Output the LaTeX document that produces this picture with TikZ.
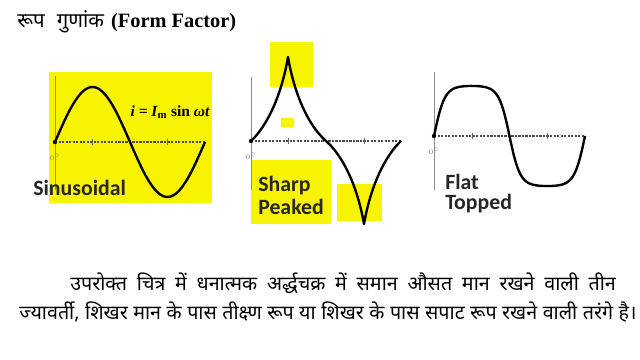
\documentclass[tikz,border=0pt]{standalone}
\usepackage{fontspec}
\usepackage{xcolor}
\usepackage{tikz}
\setmainfont{Liberation Serif}
\newfontfamily\hindi[Script=Devanagari]{Noto Sans}
\newfontfamily\lblfont{Carlito}
\definecolor{hiyellow}{HTML}{F8F400}

\begin{document}
\begin{tikzpicture}[x=0.025cm, y=-0.025cm,
    wave/.style={line width=1.7pt, line join=round},
    yaxis/.style={black!45, line width=0.7pt},
    xaxis/.style={black!70, line width=0.8pt, dash pattern=on 1.6pt off 0.9pt},
    hilite/.style={fill=hiyellow, draw=none},
    zerolbl/.style={font=\fontsize{5}{5}\selectfont, text=black!50, inner sep=0pt},
    lbl/.style={font=\lblfont\bfseries\fontsize{15.5}{17}\selectfont, anchor=west, inner sep=0pt, text=black!85}]
    \useasboundingbox[fill=white] (0,0) rectangle (640,360);

    % Title
    \node[anchor=west, inner sep=0pt] (title) at (17,22) {{\hindi\fontsize{14.5}{16}\selectfont रूप\hspace{0.6em}गुणांक}\hspace{0.5em}{\fontsize{14.5}{16}\selectfont\bfseries (Form Factor)}};

    % Sinusoidal - yellow box behind the wave
    \fill[hilite] (49,72) rectangle (212,203);
    \draw[yaxis] (55,76) -- (55,190);
    \draw[xaxis] (55,142) -- (205,142);
    \draw[wave] plot[domain=0:150, samples=70, smooth] ({55+\x},{142-55*sin(\x*2.4)});
    \fill (55,142) circle (2.2);
    \node[zerolbl] (z1) at (55,157) {$0^\circ$};
    \node[inner sep=0pt] (eqn) at (170,112) {\fontsize{11}{12}\selectfont\bfseries\itshape i\ = I\textsubscript{\upshape m}\ \upshape sin\ \itshape ωt};
    \node[lbl] (sinus) at (33,188) {Sinusoidal};

    % Sharp peaked - highlights first
    \fill[hilite] (270,42) rectangle (313,87);
    \fill[hilite] (281,118) rectangle (294,127);
    \fill[hilite] (251,160) rectangle (331,224);
    \fill[hilite] (337,184) rectangle (382,221);
    \draw[yaxis] (251,77) -- (251,190);
    \draw[xaxis] (251,141) -- (401,141);
    \draw[wave] (251,141) .. controls (266,127) and (281,98) .. (288,57)
        .. controls (295,98) and (310,127) .. (326,141)
        .. controls (342,155) and (357,184) .. (364,224)
        .. controls (371,184) and (386,155) .. (401,141);
    \fill (251,141) circle (2.2);
    \node[zerolbl] (z2) at (251,156) {$0^\circ$};
    \node[lbl] (sharp) at (258,186) {Sharp};
    \node[lbl] (peaked) at (258,207) {Peaked};

    % Flat topped
    \draw[yaxis] (434,72) -- (434,190);
    \draw[xaxis] (434,136) -- (585,136);
    \draw[wave] plot[domain=0:151, samples=90, smooth] ({434+\x},{136-51.3*tanh(2.2*sin(\x*2.3841))});
    \fill (434,136) circle (2.2);
    \node[zerolbl] (z3) at (434,151) {$0^\circ$};
    \node[lbl] (flat) at (445,182) {Flat};
    \node[lbl] (topped) at (445,204) {Topped};

    % small ticks at the quarter points
    \foreach \tx/\ty in {92/142, 167/142, 288/141, 364/141, 472/136, 547/136}
        \draw[black!60, line width=0.5pt] (\tx,\ty-3) -- (\tx,\ty+3);

    % Text below the waves
    \node[anchor=west, inner sep=0pt] (line1) at (70,283) {\hindi\fontsize{14}{16}\selectfont\makebox[388pt][s]{उपरोक्त चित्र में धनात्मक अर्द्धचक्र में समान औसत मान रखने वाली तीन}};
    \node[anchor=west, inner sep=0pt] (line2) at (19,312) {\hindi\fontsize{14}{16}\selectfont\makebox[439pt][s]{ज्यावर्ती, शिखर मान के पास तीक्ष्ण रूप या शिखर के पास सपाट रूप रखने वाली तरंगे है।}};
\end{tikzpicture}
\end{document}
